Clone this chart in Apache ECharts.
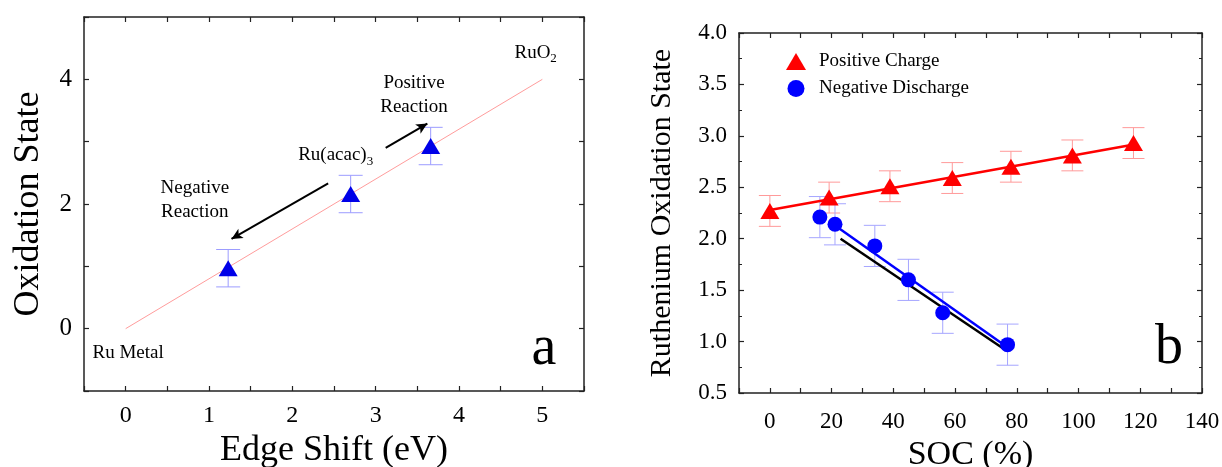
<!DOCTYPE html>
<html>
<head>
<meta charset="utf-8">
<script src="https://cdn.jsdelivr.net/npm/echarts@6/dist/echarts.min.js"></script>
<style>
  html, body { margin: 0; padding: 0; background: #fff; }
  #chart { width: 1222px; height: 467px; }
</style>
</head>
<body>
<div id="chart"></div>
<script>
// Panel a: oxidation state vs. XANES edge shift
const edgeShift = [1.23, 2.70, 3.66];
const oxState = [0.97, 2.16, 2.93];
const oxStateErr = [0.30, 0.30, 0.30];
const refLineShift = [0, 5];
const refLineOx = [0, 4];

// Panel b: ruthenium oxidation state vs. state of charge
const socCharge = [0, 19.2, 38.9, 59.1, 78.1, 98.0, 117.8];
const oxCharge = [2.27, 2.40, 2.51, 2.59, 2.70, 2.81, 2.93];
const errCharge = [0.15, 0.15, 0.15, 0.15, 0.15, 0.15, 0.15];
const chargeFitSoc = [0, 118];
const chargeFitOx = [2.28, 2.915];

const socDischarge = [16.2, 21.1, 34.0, 44.9, 56.0, 77.0];
const oxDischarge = [2.21, 2.14, 1.93, 1.60, 1.28, 0.97];
const errDischarge = [0.20, 0.20, 0.20, 0.20, 0.20, 0.20];
const dischargeFitSoc = [21.0, 76.7];
const dischargeFitOx = [2.13, 0.95];
const refFitSoc = [22.9, 76.2];
const refFitOx = [2.00, 0.92];

// Tick labels
const edgeShiftTicks = [0, 1, 2, 3, 4, 5];
const oxStateTicks = [0, 2, 4];
const socTicks = [0, 20, 40, 60, 80, 100, 120, 140];

const FONT = '"Liberation Serif", "Times New Roman", serif';
const AXIS_COLOR = '#222';
const TEXT_COLOR = '#000';

const zip = (xs, ys) => xs.map((x, i) => [x, ys[i]]);
const zip3 = (xs, ys, es) => xs.map((x, i) => [x, ys[i], es[i]]);

function errorBars(capHalf, color) {
  return function (params, api) {
    const x = api.value(0), y = api.value(1), e = api.value(2);
    const top = api.coord([x, y + e]);
    const bot = api.coord([x, y - e]);
    const st = { stroke: color, lineWidth: 1 };
    return {
      type: 'group',
      children: [
        { type: 'line', shape: { x1: top[0], y1: top[1], x2: bot[0], y2: bot[1] }, style: st },
        { type: 'line', shape: { x1: top[0] - capHalf, y1: top[1], x2: top[0] + capHalf, y2: top[1] }, style: st },
        { type: 'line', shape: { x1: bot[0] - capHalf, y1: bot[1], x2: bot[0] + capHalf, y2: bot[1] }, style: st }
      ]
    };
  };
}

function frameAxis(base, extra) {
  return Object.assign({
    type: 'value',
    axisLine: { show: true, onZero: false, lineStyle: { color: AXIS_COLOR, width: 1.5 } },
    axisTick: { show: true, inside: true, length: 5, lineStyle: { color: AXIS_COLOR, width: 1.2 } },
    splitLine: { show: false },
    axisLabel: { show: false }
  }, base, extra);
}

const labelStyle = { fontFamily: FONT, color: TEXT_COLOR };

const xA = { gridIndex: 0, min: -0.5, max: 5.5, interval: 0.5 };
const yA = { gridIndex: 0, min: -1, max: 5, interval: 1 };
const xB = { gridIndex: 1, min: -10, max: 140, interval: 10 };
const yB = { gridIndex: 1, min: 0.5, max: 4, interval: 0.5 };

const textScatter = {
  type: 'scatter',
  symbolSize: 0,
  silent: true,
  itemStyle: { opacity: 1 },
  emphasis: { disabled: true }
};

const option = {
  backgroundColor: '#fff',
  animation: false,
  textStyle: { fontFamily: FONT },
  grid: [
    { left: 84, top: 17, width: 500, height: 374, containLabel: false, outerBoundsMode: 'none' },
    { left: 739, top: 33, width: 463, height: 360, containLabel: false, outerBoundsMode: 'none' }
  ],
  legend: {
    orient: 'vertical',
    left: 781,
    top: 47,
    itemWidth: 20,
    itemHeight: 17,
    itemGap: 8,
    textStyle: { fontFamily: FONT, fontSize: 19, color: TEXT_COLOR, padding: [0, 0, 0, 8] },
    data: [
      { name: 'Positive Charge', icon: 'triangle', itemStyle: { color: '#ff0000', opacity: 1 } },
      { name: 'Negative Discharge', icon: 'circle', itemStyle: { color: '#0000ff', opacity: 1 } }
    ]
  },
  xAxis: [
    frameAxis(xA, {
      position: 'bottom',
      name: 'Edge Shift (eV)', nameLocation: 'middle', nameGap: 37,
      nameTextStyle: Object.assign({ fontSize: 36 }, labelStyle),
      axisLabel: Object.assign({
        show: true, fontSize: 24, margin: 13,
        formatter: v => (edgeShiftTicks.includes(v) ? String(v) : '')
      }, labelStyle)
    }),
    frameAxis(xA, { position: 'top' }),
    frameAxis(xB, {
      position: 'bottom',
      name: 'SOC (%)', nameLocation: 'middle', nameGap: 42,
      nameTextStyle: Object.assign({ fontSize: 34 }, labelStyle),
      axisLabel: Object.assign({
        show: true, fontSize: 23, margin: 17,
        formatter: v => (socTicks.includes(v) ? String(v) : '')
      }, labelStyle)
    }),
    frameAxis(xB, { position: 'top' })
  ],
  yAxis: [
    frameAxis(yA, {
      position: 'left',
      name: 'Oxidation State', nameLocation: 'middle', nameGap: 37,
      nameTextStyle: Object.assign({ fontSize: 36 }, labelStyle),
      axisLabel: Object.assign({
        show: true, fontSize: 25, margin: 12,
        formatter: v => (oxStateTicks.includes(v) ? String(v) : '')
      }, labelStyle)
    }),
    frameAxis(yA, { position: 'right' }),
    frameAxis(yB, {
      position: 'left',
      name: 'Ruthenium Oxidation State', nameLocation: 'middle', nameGap: 62,
      nameTextStyle: Object.assign({ fontSize: 30 }, labelStyle),
      minorTick: { show: true, splitNumber: 2, length: 3, lineStyle: { color: AXIS_COLOR } },
      axisLabel: Object.assign({
        show: true, fontSize: 23, margin: 12,
        formatter: v => v.toFixed(1)
      }, labelStyle)
    }),
    frameAxis(yB, {
      position: 'right',
      minorTick: { show: true, splitNumber: 2, length: 3, lineStyle: { color: AXIS_COLOR } }
    })
  ],
  series: [
    // ---------- panel a ----------
    {
      type: 'line', xAxisIndex: 0, yAxisIndex: 0,
      data: zip(refLineShift, refLineOx),
      symbol: 'none',
      lineStyle: { color: '#ff9c9c', width: 1 },
      z: 1
    },
    {
      type: 'custom', xAxisIndex: 0, yAxisIndex: 0,
      data: zip3(edgeShift, oxState, oxStateErr),
      renderItem: errorBars(12, '#9c9cff'),
      z: 2
    },
    {
      type: 'scatter', xAxisIndex: 0, yAxisIndex: 0,
      data: zip(edgeShift, oxState),
      symbol: 'triangle', symbolSize: [19, 16],
      itemStyle: { color: '#0000e8', opacity: 1 },
      z: 3
    },
    {
      type: 'line', xAxisIndex: 0, yAxisIndex: 0,
      data: [],
      markLine: {
        silent: true,
        symbol: ['none', 'arrow'],
        symbolSize: [8, 11],
        label: { show: false },
        lineStyle: { color: '#000', width: 2, type: 'solid' },
        data: [
          [{ coord: [3.12, 2.90] }, { coord: [3.62, 3.29] }],
          [{ coord: [2.43, 2.33] }, { coord: [1.27, 1.44] }]
        ]
      }
    },
    Object.assign({}, textScatter, {
      xAxisIndex: 0, yAxisIndex: 0,
      label: {
        show: true, position: 'inside', align: 'center', verticalAlign: 'middle',
        fontFamily: FONT, fontSize: 19, color: TEXT_COLOR, lineHeight: 24,
        formatter: p => p.data.text,
        rich: {
          sub: { fontFamily: FONT, fontSize: 13, color: TEXT_COLOR, padding: [12, 0, 0, 0] },
          n: { fontFamily: FONT, fontSize: 19, color: TEXT_COLOR }
        }
      },
      data: [
        { value: [4.92, 4.43], text: '{n|RuO}{sub|2}' },
        { value: [3.46, 3.75], text: 'Positive\nReaction' },
        { value: [2.52, 2.78], text: '{n|Ru(acac)}{sub|3}' },
        { value: [0.83, 2.06], text: 'Negative\nReaction' },
        { value: [0.03, -0.39], text: 'Ru Metal' }
      ]
    }),
    Object.assign({}, textScatter, {
      xAxisIndex: 0, yAxisIndex: 0,
      label: {
        show: true, position: 'inside', align: 'center', verticalAlign: 'middle',
        fontFamily: FONT, fontSize: 56, color: TEXT_COLOR, formatter: 'a'
      },
      data: [[5.02, -0.33]]
    }),
    // ---------- panel b ----------
    {
      type: 'custom', xAxisIndex: 2, yAxisIndex: 2,
      data: zip3(socCharge, oxCharge, errCharge),
      renderItem: errorBars(11, '#ff9a9a'),
      z: 2
    },
    {
      type: 'custom', xAxisIndex: 2, yAxisIndex: 2,
      data: zip3(socDischarge, oxDischarge, errDischarge),
      renderItem: errorBars(11, '#a6a6ff'),
      z: 2
    },
    {
      type: 'line', xAxisIndex: 2, yAxisIndex: 2,
      data: zip(chargeFitSoc, chargeFitOx),
      symbol: 'none',
      lineStyle: { color: '#ff0000', width: 2.5 },
      z: 3
    },
    {
      type: 'line', xAxisIndex: 2, yAxisIndex: 2,
      data: zip(dischargeFitSoc, dischargeFitOx),
      symbol: 'none',
      lineStyle: { color: '#0000ff', width: 2.5 },
      z: 3
    },
    {
      type: 'line', xAxisIndex: 2, yAxisIndex: 2,
      data: zip(refFitSoc, refFitOx),
      symbol: 'none',
      lineStyle: { color: '#000', width: 2.5 },
      z: 4
    },
    {
      name: 'Positive Charge',
      type: 'scatter', xAxisIndex: 2, yAxisIndex: 2,
      data: zip(socCharge, oxCharge),
      symbol: 'triangle', symbolSize: [19, 16],
      itemStyle: { color: '#ff0000', opacity: 1 },
      z: 5
    },
    {
      name: 'Negative Discharge',
      type: 'scatter', xAxisIndex: 2, yAxisIndex: 2,
      data: zip(socDischarge, oxDischarge),
      symbol: 'circle', symbolSize: 15,
      itemStyle: { color: '#0000ff', opacity: 1 },
      z: 5
    },
    Object.assign({}, textScatter, {
      xAxisIndex: 2, yAxisIndex: 2,
      label: {
        show: true, position: 'inside', align: 'center', verticalAlign: 'middle',
        fontFamily: FONT, fontSize: 56, color: TEXT_COLOR, formatter: 'b'
      },
      data: [[129.3, 0.93]]
    })
  ]
};

const chart = echarts.init(document.getElementById('chart'), null, { renderer: 'canvas' });
chart.setOption(option);
</script>
</body>
</html>
